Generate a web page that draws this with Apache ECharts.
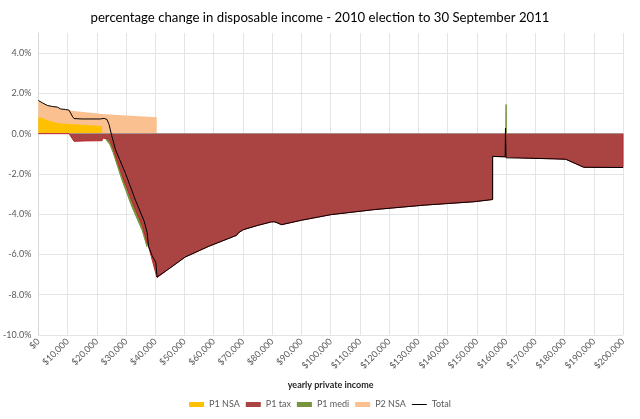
<!DOCTYPE html>
<html>
<head>
<meta charset="utf-8">
<title>percentage change in disposable income</title>
<script src="https://cdn.jsdelivr.net/npm/echarts@6.0.0/dist/echarts.min.js"></script>
<style>
  html, body { margin: 0; padding: 0; background: #fff; }
  #chart { width: 640px; height: 419px; }
</style>
</head>
<body>
<div id="chart"></div>
<script>
// values: [yearly private income ($), change in disposable income (%)]
const p1NsaPoints = [
  [0, 0.82], [1500, 0.78], [2500, 0.70], [4500, 0.60], [7000, 0.52],
  [12000, 0.47], [21800, 0.38], [21800, 0]
];

const p2NsaPoints = [
  [0, 1.65], [1400, 1.53], [3100, 1.40], [4800, 1.35], [6500, 1.32],
  [7600, 1.23], [9300, 1.20], [10500, 1.15], [21800, 0.98], [30000, 0.90],
  [40500, 0.82], [40500, 0]
];

const p1MediPoints = [
  [22500, 0], [22800, -0.22], [24500, -0.55], [25600, -0.95], [28600, -2.30],
  [32000, -3.63], [35500, -4.80], [37200, -5.63],
  [100000, null],
  [159900, 0], [160000, 1.45], [160100, 0]
];

const p1TaxPoints = [
  [0, 0], [10500, 0], [12200, -0.38], [16000, -0.36], [21800, -0.35],
  [22000, -0.22], [23500, -0.25], [24500, -0.35], [25600, -0.75], [28600, -2.05],
  [32000, -3.35], [35500, -4.55], [37200, -5.40], [38000, -5.75], [39000, -6.30],
  [40300, -7.00], [40600, -7.15], [41200, -7.10], [44600, -6.72], [50200, -6.13],
  [58200, -5.60], [67800, -5.05], [68400, -4.93], [70100, -4.77], [75200, -4.55],
  [79800, -4.38], [80900, -4.38], [83200, -4.52], [90000, -4.30], [100200, -4.02],
  [115000, -3.77], [132000, -3.55], [149100, -3.38], [155400, -3.27], [155400, -1.13],
  [160000, -1.15], [168000, -1.22], [176500, -1.25], [180400, -1.27], [186600, -1.67],
  [200000, -1.68], [200000, 0]
];

const totalPoints = [
  [0, 1.65], [1400, 1.53], [3100, 1.40], [4800, 1.35], [6500, 1.32],
  [7600, 1.23], [9300, 1.20], [10500, 1.17], [11600, 0.87], [12200, 0.75],
  [15000, 0.73], [21200, 0.73], [21800, 0.78], [22500, 0.76], [23500, 0.70],
  [24200, 0.45], [25100, -0.10], [26400, -0.80], [29800, -1.97], [33200, -3.30],
  [36200, -4.35], [37200, -4.90], [37700, -5.60], [38900, -6.05], [40200, -6.40],
  [40600, -7.12], [41200, -7.10], [44600, -6.72], [50200, -6.13], [58200, -5.60],
  [67800, -5.05], [68400, -4.93], [70100, -4.77], [75200, -4.55], [79800, -4.38],
  [80900, -4.38], [83200, -4.52], [90000, -4.30], [100200, -4.02], [115000, -3.77],
  [132000, -3.55], [149100, -3.38], [155400, -3.27], [155400, -1.13], [159700, -1.15],
  [159800, 0.28], [160000, -1.20], [168000, -1.22], [176500, -1.25], [180400, -1.27],
  [186600, -1.67], [200000, -1.68]
];

const font = 'Lato';
const chart = echarts.init(document.getElementById('chart'), null, { renderer: 'canvas' });

// each area gets its own z so the later ones cover the earlier ones, lines included
function areaSeries(name, points, fill, edge, edgeWidth, z) {
  return {
    name: name,
    type: 'line',
    data: points,
    symbol: 'none',
    connectNulls: false,
    itemStyle: { color: fill },
    lineStyle: { color: edge, width: edgeWidth },
    areaStyle: { color: fill, opacity: 1 },
    emphasis: { disabled: true },
    z: z
  };
}

const option = {
  animation: false,
  title: {
    text: 'percentage change in disposable income - 2010 election to 30 September 2011',
    left: 'center',
    top: 6,
    textStyle: { fontFamily: font, fontSize: 13.2, fontWeight: 'normal', color: '#000' }
  },
  legend: {
    bottom: 5,
    left: 'center',
    itemWidth: 15,
    itemHeight: 5,
    itemGap: 6,
    textStyle: { fontFamily: font, fontSize: 9, color: '#595959' },
    data: [
      { name: 'P1 NSA', icon: 'rect' },
      { name: 'P1 tax', icon: 'rect' },
      { name: 'P1 medi', icon: 'rect' },
      { name: 'P2 NSA', icon: 'rect' },
      { name: 'Total', icon: 'path://M0,0 L15,0 L15,1 L0,1 Z' }
    ]
  },
  grid: { left: 36, right: 17, top: 33, bottom: 84 },
  xAxis: {
    type: 'value',
    min: 0,
    max: 200000,
    interval: 10000,
    name: 'yearly private income',
    nameLocation: 'middle',
    nameGap: 46,
    nameTextStyle: { fontFamily: font, fontSize: 9, fontWeight: 'bold', color: '#262626' },
    axisLine: { show: false },
    axisTick: { show: false },
    splitLine: { show: true, lineStyle: { color: '#e4e4e4', width: 1 } },
    axisLabel: {
      rotate: 45,
      margin: 5,
      fontFamily: font,
      fontSize: 9,
      color: '#595959',
      formatter: v => '$' + v.toLocaleString('en-US')
    }
  },
  yAxis: {
    type: 'value',
    min: -10,
    max: 5,
    interval: 2,
    axisLine: { show: true, lineStyle: { color: '#d9d9d9' } },
    axisTick: { show: false },
    splitLine: { show: true, showMaxLine: false, lineStyle: { color: '#e4e4e4', width: 1 } },
    axisLabel: {
      margin: 7,
      fontFamily: font,
      fontSize: 9,
      color: '#595959',
      showMaxLabel: false,
      formatter: v => (v === 5 ? '' : v.toFixed(1) + '%')
    }
  },
  series: [
    areaSeries('P2 NSA', p2NsaPoints, '#fac090', '#fac090', 0, 2),
    areaSeries('P1 medi', p1MediPoints, '#77933c', '#77933c', 1, 3),
    areaSeries('P1 NSA', p1NsaPoints, '#ffc000', '#ffc000', 0, 4),
    areaSeries('P1 tax', p1TaxPoints, '#a94442', '#c0262a', 1, 5),
    {
      name: 'Total',
      type: 'line',
      data: totalPoints,
      symbol: 'none',
      itemStyle: { color: '#000' },
      lineStyle: { color: '#000', width: 1 },
      emphasis: { disabled: true },
      markLine: {
        silent: true,
        symbol: 'none',
        label: { show: false },
        lineStyle: { color: '#a6a6a6', width: 1, type: 'solid' },
        data: [{ yAxis: 0 }]
      },
      z: 6
    }
  ]
};

chart.setOption(option);
</script>
</body>
</html>
